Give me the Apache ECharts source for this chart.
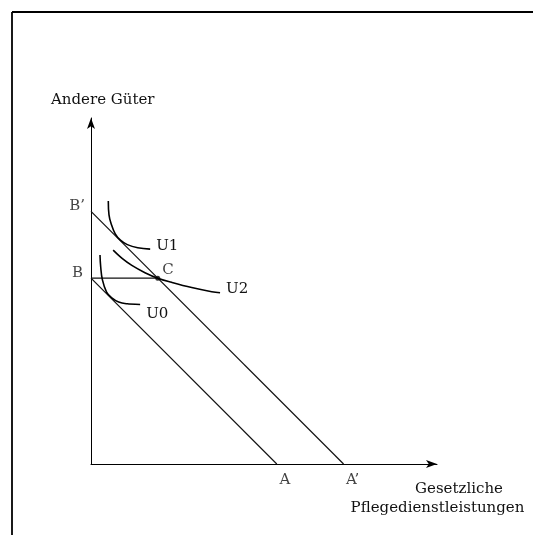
<!DOCTYPE html>
<html>
<head>
<meta charset="utf-8">
<script src="https://cdn.jsdelivr.net/npm/echarts@6/dist/echarts.min.js"></script>
<style>
  html, body { margin: 0; padding: 0; background: #fff; }
  #chart { width: 533px; height: 535px; }
</style>
</head>
<body>
<div id="chart"></div>
<script>
// budget line end points (x: care services, y: other goods)
var pointA = [5.37, 0];
var pointA2 = [7.3, 0];
var pointB = [0, 5.37];
var pointB2 = [0, 7.3];
var pointC = [1.93, 5.37];

// indifference curves
var curveU0 = [[0.26, 6.04], [0.28, 5.7], [0.33, 5.32], [0.45, 4.97], [0.6, 4.8], [0.8, 4.68], [1.05, 4.63], [1.42, 4.61]];
var curveU1 = [[0.5, 7.6], [0.52, 7.2], [0.58, 6.95], [0.7, 6.65], [0.85, 6.47], [1.05, 6.34], [1.35, 6.25], [1.71, 6.21]];
var curveU2 = [[0.64, 6.18], [0.89, 5.95], [1.18, 5.74], [1.56, 5.53], [1.93, 5.37], [2.33, 5.25], [2.91, 5.1], [3.49, 4.98], [3.73, 4.95]];

var font = '15px "DejaVu Serif"';
var textColor = '#111';

function budgetLine(data) {
    return {
        type: 'line',
        data: data,
        symbol: 'none',
        silent: true,
        lineStyle: { color: '#111', width: 1.2 }
    };
}

function curve(name, data, offset) {
    return {
        name: name,
        type: 'line',
        data: data,
        smooth: 0.4,
        symbol: 'none',
        silent: true,
        lineStyle: { color: '#000', width: 1.6 },
        endLabel: {
            show: true,
            formatter: '{a}',
            distance: 6,
            offset: offset,
            color: textColor,
            fontFamily: 'DejaVu Serif',
            fontSize: 15
        }
    };
}

function pointLabel(name, value, position, offset) {
    return {
        name: name,
        value: value,
        label: {
            show: true,
            formatter: '{b}',
            position: position,
            offset: offset,
            color: textColor,
            fontFamily: 'DejaVu Serif',
            fontSize: 15
        }
    };
}

var chart = echarts.init(document.getElementById('chart'));
chart.setOption({
    backgroundColor: '#fff',
    animation: false,
    grid: { left: 91, right: 96, top: 118, bottom: 71 },
    xAxis: {
        type: 'value',
        min: 0,
        max: 10,
        axisLine: { lineStyle: { color: '#000', width: 1 }, symbol: ['none', 'arrow'], symbolSize: [6, 11] },
        axisTick: { show: false },
        axisLabel: { show: false },
        splitLine: { show: false }
    },
    yAxis: {
        type: 'value',
        min: 0,
        max: 10,
        axisLine: { show: true, lineStyle: { color: '#000', width: 1 }, symbol: ['none', 'arrow'], symbolSize: [6, 11] },
        axisTick: { show: false },
        axisLabel: { show: false },
        splitLine: { show: false }
    },
    graphic: [
        { type: 'line', shape: { x1: 12, y1: 12, x2: 533, y2: 12 }, style: { stroke: '#000', lineWidth: 1.8 } },
        { type: 'line', shape: { x1: 12, y1: 12, x2: 12, y2: 535 }, style: { stroke: '#000', lineWidth: 1.8 } },
        { type: 'text', x: 51, y: 100, style: { text: 'Andere Güter', font: font, fill: textColor, textVerticalAlign: 'middle' } },
        { type: 'text', x: 459, y: 489, style: { text: 'Gesetzliche', font: font, fill: textColor, textAlign: 'center', textVerticalAlign: 'middle' } },
        { type: 'text', x: 437.5, y: 508, style: { text: 'Pflegedienstleistungen', font: font, fill: textColor, textAlign: 'center', textVerticalAlign: 'middle' } }
    ],
    series: [
        budgetLine([pointB, pointA]),
        budgetLine([pointB2, pointA2]),
        budgetLine([pointB, pointC]),
        curve('U0', curveU0, [0, 10]),
        curve('U1', curveU1, [0, -3]),
        curve('U2', curveU2, [0, -4]),
        {
            type: 'scatter',
            silent: true,
            symbolSize: 5,
            itemStyle: { color: '#000' },
            data: [pointC],
            label: {
                show: true,
                formatter: 'C',
                position: 'right',
                distance: 2,
                offset: [0, -8],
                color: textColor,
                fontFamily: 'DejaVu Serif',
                fontSize: 15
            }
        },
        {
            type: 'scatter',
            silent: true,
            symbolSize: 0,
            itemStyle: { color: 'transparent' },
            data: [
                pointLabel('A', pointA, 'bottom', [8, 4]),
                pointLabel('A’', pointA2, 'bottom', [9, 4]),
                pointLabel('B', pointB, 'left', [-3, -5]),
                pointLabel('B’', pointB2, 'left', [-1, -5])
            ]
        }
    ]
});
</script>
</body>
</html>
